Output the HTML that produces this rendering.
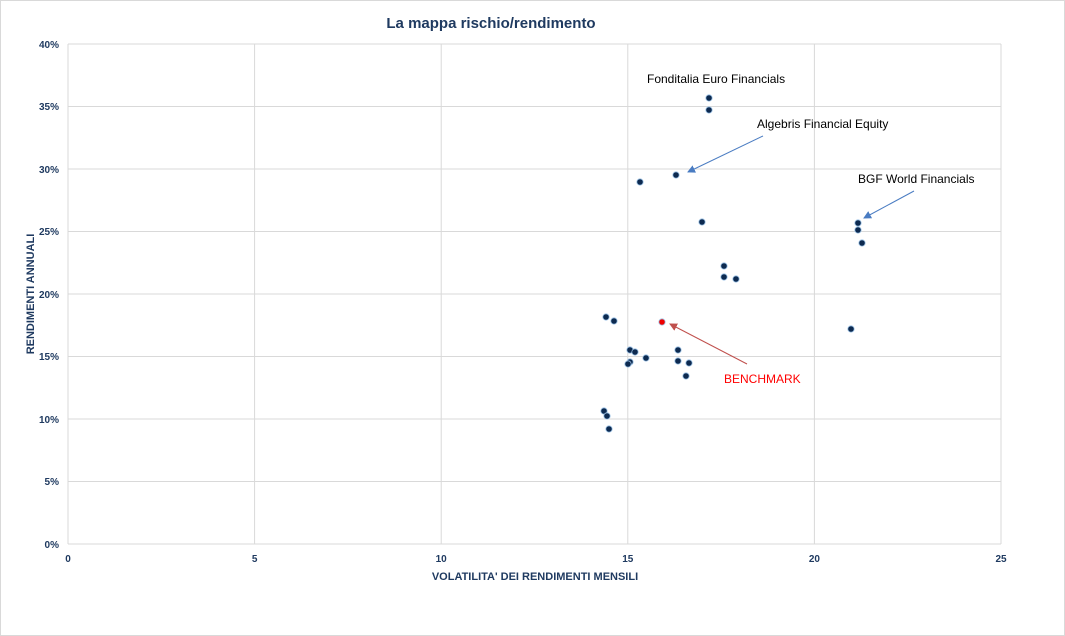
<!DOCTYPE html>
<html><head><meta charset="utf-8"><style>
html,body{margin:0;padding:0;background:#fff}
svg{display:block}
text{font-family:"Liberation Sans",sans-serif}
</style></head><body>
<svg width="1065" height="636" xmlns="http://www.w3.org/2000/svg">
<rect x="0.5" y="0.5" width="1064" height="635" fill="#fff" stroke="#d9d9d9"/>
<defs>
<marker id="ab" markerWidth="8" markerHeight="8" refX="7" refY="4" orient="auto" markerUnits="userSpaceOnUse"><path d="M0,0 L8,4 L0,8 z" fill="#4a7cc2"/></marker>
<marker id="ar" markerWidth="8" markerHeight="8" refX="7" refY="4" orient="auto" markerUnits="userSpaceOnUse"><path d="M0,0 L8,4 L0,8 z" fill="#c0504d"/></marker>
</defs>
<text x="491" y="28" text-anchor="middle" font-size="15" font-weight="bold" fill="#1f3a60">La mappa rischio/rendimento</text>
<g stroke="#d9d9d9" stroke-width="1">
<line x1="68" y1="44" x2="1001" y2="44"/><line x1="68" y1="106.5" x2="1001" y2="106.5"/>
<line x1="68" y1="169" x2="1001" y2="169"/><line x1="68" y1="231.5" x2="1001" y2="231.5"/>
<line x1="68" y1="294" x2="1001" y2="294"/><line x1="68" y1="356.5" x2="1001" y2="356.5"/>
<line x1="68" y1="419" x2="1001" y2="419"/><line x1="68" y1="481.5" x2="1001" y2="481.5"/>
<line x1="68" y1="544" x2="1001" y2="544"/>
<line x1="68" y1="44" x2="68" y2="544"/><line x1="254.6" y1="44" x2="254.6" y2="544"/>
<line x1="441.2" y1="44" x2="441.2" y2="544"/><line x1="627.8" y1="44" x2="627.8" y2="544"/>
<line x1="814.4" y1="44" x2="814.4" y2="544"/><line x1="1001" y1="44" x2="1001" y2="544"/>
</g>
<g font-size="10" font-weight="bold" fill="#1f3a60" text-anchor="end">
<text x="59" y="48">40%</text><text x="59" y="110">35%</text><text x="59" y="173">30%</text>
<text x="59" y="235">25%</text><text x="59" y="298">20%</text><text x="59" y="360">15%</text>
<text x="59" y="423">10%</text><text x="59" y="485">5%</text><text x="59" y="548">0%</text>
</g>
<g font-size="10" font-weight="bold" fill="#1f3a60" text-anchor="middle">
<text x="68" y="562">0</text><text x="254.6" y="562">5</text><text x="441.2" y="562">10</text>
<text x="627.8" y="562">15</text><text x="814.4" y="562">20</text><text x="1001" y="562">25</text>
<text x="535" y="580" font-size="11">VOLATILITA' DEI RENDIMENTI MENSILI</text>
<text transform="translate(34,294) rotate(-90)" font-size="11">RENDIMENTI ANNUALI</text>
</g>
<g font-size="12" fill="#000">
<text x="647" y="83">Fonditalia Euro Financials</text>
<text x="757" y="128">Algebris Financial Equity</text>
<text x="858" y="183">BGF World Financials</text>
<text x="724" y="383" fill="#ff0000">BENCHMARK</text>
</g>
<line x1="763" y1="136" x2="688" y2="172" stroke="#4a7cc2" stroke-width="1" marker-end="url(#ab)"/>
<line x1="914" y1="191" x2="864" y2="218" stroke="#4a7cc2" stroke-width="1" marker-end="url(#ab)"/>
<line x1="747" y1="364" x2="670" y2="324" stroke="#c0504d" stroke-width="1" marker-end="url(#ar)"/>
<g fill="#0d2a50" stroke="#9dc3e6" stroke-width="0.8">
<circle cx="709" cy="98" r="3.2"/><circle cx="709" cy="110" r="3.2"/>
<circle cx="676" cy="175" r="3.2"/><circle cx="640" cy="182" r="3.2"/>
<circle cx="702" cy="222" r="3.2"/><circle cx="858" cy="223" r="3.2"/>
<circle cx="858" cy="230" r="3.2"/><circle cx="862" cy="243" r="3.2"/>
<circle cx="724" cy="266" r="3.2"/><circle cx="724" cy="277" r="3.2"/>
<circle cx="736" cy="279" r="3.2"/><circle cx="606" cy="317" r="3.2"/>
<circle cx="614" cy="321" r="3.2"/><circle cx="851" cy="329" r="3.2"/>
<circle cx="630" cy="350" r="3.2"/><circle cx="635" cy="352" r="3.2"/>
<circle cx="678" cy="350" r="3.2"/><circle cx="646" cy="358" r="3.2"/>
<circle cx="630" cy="362" r="3.2"/><circle cx="628" cy="364" r="3.2"/>
<circle cx="678" cy="361" r="3.2"/><circle cx="689" cy="363" r="3.2"/>
<circle cx="686" cy="376" r="3.2"/><circle cx="604" cy="411" r="3.2"/>
<circle cx="607" cy="416" r="3.2"/><circle cx="609" cy="429" r="3.2"/>
</g>
<circle cx="662" cy="322" r="3.2" fill="#ee0000" stroke="#9dc3e6" stroke-width="0.8"/>
</svg>
</body></html>
